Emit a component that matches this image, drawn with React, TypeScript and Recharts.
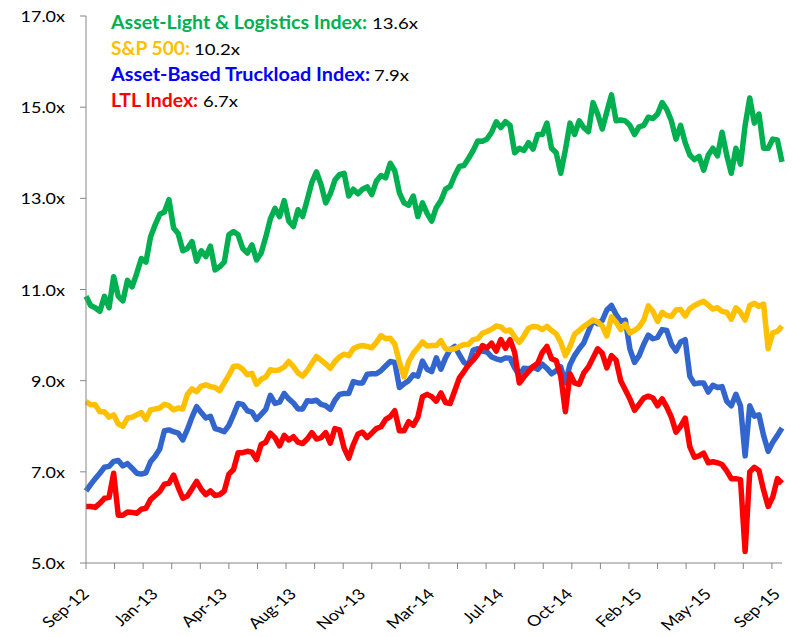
import { LineChart, Line, XAxis, YAxis } from 'recharts';

// one point = 5 trading days (Sep-12 .. Sep-15)
const DATE_LABELS = ['Sep-12', 'Jan-13', 'Apr-13', 'Aug-13', 'Nov-13', 'Mar-14', 'Jul-14', 'Oct-14', 'Feb-15', 'May-15', 'Sep-15'];
const LABEL_STEP = 15; // a date label every 75 trading days
const MARK_STEP = 31 / 5; // a tick mark every 31 trading days
const MARK_COUNT = 25;
const Y_TICKS = [5, 7, 9, 11, 13, 15, 17];

const assetLight = [
  10.85, 10.65, 10.6, 10.52, 10.85, 10.6, 11.28, 10.85, 10.75, 11.2,
  11.06, 11.35, 11.68, 11.6, 12.15, 12.42, 12.65, 12.7, 12.97, 12.35,
  12.23, 11.85, 11.9, 12.05, 11.62, 11.85, 11.72, 11.95, 11.43, 11.5,
  11.6, 12.2, 12.27, 12.2, 11.9, 11.8, 11.98, 11.65, 11.8, 12.15,
  12.55, 12.78, 12.6, 12.95, 12.5, 12.38, 12.75, 12.6, 12.97, 13.35,
  13.58, 13.3, 12.9, 13.1, 13.4, 13.52, 13.55, 13.05, 13.2, 13.1,
  13.2, 13.25, 13.08, 13.38, 13.5, 13.45, 13.77, 13.6, 13.12, 12.9,
  12.85, 13.05, 12.6, 12.9, 12.67, 12.5, 12.8, 12.95, 13.2, 13.26,
  13.5, 13.7, 13.72, 13.88, 14.05, 14.26, 14.25, 14.3, 14.45, 14.68,
  14.55, 14.68, 14.6, 14.0, 14.1, 14.05, 14.22, 14.08, 14.4, 14.4,
  14.65, 14.1, 14.0, 13.55, 14.06, 14.65, 14.4, 14.7, 14.55, 14.46,
  15.1, 14.85, 14.52, 14.9, 15.27, 14.7, 14.72, 14.7, 14.6, 14.4,
  14.57, 14.6, 14.78, 14.75, 14.85, 15.1, 14.95, 14.7, 14.3, 14.6,
  14.22, 13.95, 13.85, 13.92, 13.62, 13.95, 14.1, 13.93, 14.45, 13.95,
  13.55, 14.1, 13.75, 14.6, 15.2, 14.65, 14.85, 14.1, 14.1, 14.3,
  14.28, 13.8,
];

const sp500 = [
  8.54, 8.47, 8.47, 8.32, 8.32, 8.2, 8.25, 8.05, 8.0, 8.18,
  8.2, 8.25, 8.3, 8.15, 8.36, 8.38, 8.4, 8.48, 8.45, 8.36,
  8.4, 8.38, 8.7, 8.82, 8.76, 8.88, 8.91, 8.87, 8.85, 8.78,
  8.95, 9.12, 9.31, 9.32, 9.25, 9.13, 9.16, 8.92, 9.03, 9.08,
  9.24, 9.22, 9.24, 9.3, 9.42, 9.31, 9.17, 9.1, 9.22, 9.38,
  9.53, 9.45, 9.37, 9.27, 9.42, 9.52, 9.58, 9.55, 9.7, 9.75,
  9.77, 9.75, 9.72, 9.84, 9.99, 9.92, 9.93, 9.8, 9.4, 9.08,
  9.42, 9.6, 9.72, 9.85, 9.76, 9.77, 9.77, 9.88, 9.7, 9.68,
  9.7, 9.75, 9.79, 9.8, 9.9, 9.92, 10.04, 10.08, 10.13, 10.2,
  10.18, 10.09, 10.11, 9.96, 9.84, 9.98, 10.15, 10.19, 10.18, 10.12,
  10.19, 10.1, 10.03, 9.84, 9.55, 9.75, 10.02, 10.1, 10.19, 10.26,
  10.33, 10.29, 10.2, 9.98, 10.4, 10.28, 10.12, 10.24, 10.05, 10.1,
  10.18, 10.33, 10.64, 10.52, 10.3, 10.5, 10.43, 10.41, 10.55, 10.56,
  10.42, 10.58, 10.65, 10.7, 10.74, 10.66, 10.57, 10.6, 10.52, 10.5,
  10.35, 10.6, 10.5, 10.33, 10.65, 10.7, 10.63, 10.68, 9.7, 10.05,
  10.08, 10.2,
];

const truckload = [
  6.58, 6.72, 6.85, 6.97, 7.1, 7.12, 7.23, 7.25, 7.13, 7.18,
  7.08, 6.97, 6.95, 6.98, 7.22, 7.34, 7.5, 7.9, 7.92, 7.88,
  7.85, 7.7, 7.93, 8.2, 8.43, 8.3, 8.18, 8.22, 7.95, 7.92,
  7.88, 8.02, 8.25, 8.5, 8.48, 8.34, 8.31, 8.15, 8.26, 8.37,
  8.68, 8.5, 8.53, 8.72, 8.6, 8.51, 8.38, 8.38, 8.56, 8.55,
  8.57, 8.48, 8.45, 8.37, 8.57, 8.7, 8.72, 8.72, 8.98, 8.95,
  8.95, 9.14, 9.15, 9.15, 9.22, 9.32, 9.42, 9.4, 8.85, 8.93,
  9.0, 9.13, 9.1, 9.43, 9.25, 9.2, 9.5, 9.25, 9.5, 9.68,
  9.75, 9.57, 9.4, 9.35, 9.67, 9.7, 9.65, 9.63, 9.52, 9.48,
  9.45, 9.5, 9.49, 9.28, 9.12, 9.27, 9.26, 9.3, 9.25, 9.36,
  9.27, 9.15, 9.22, 9.3, 8.95, 9.35, 9.55, 9.7, 9.83, 10.08,
  10.32, 10.25, 10.32, 10.55, 10.65, 10.45, 10.3, 10.33, 9.7, 9.4,
  9.55, 9.8, 10.0, 9.92, 9.95, 10.12, 10.1, 9.8, 9.65, 9.85,
  9.9, 9.1, 8.93, 8.95, 8.95, 8.75, 8.9, 8.85, 8.87, 8.55,
  8.45, 8.7, 8.45, 7.35, 8.45, 8.22, 8.25, 7.8, 7.45, 7.65,
  7.8, 7.96,
];

const ltl = [
  6.24, 6.24, 6.22, 6.31, 6.42, 6.44, 6.97, 6.05, 6.05, 6.12,
  6.11, 6.09, 6.18, 6.2, 6.39, 6.48, 6.57, 6.73, 6.75, 6.93,
  6.66, 6.42, 6.47, 6.63, 6.79, 6.62, 6.5, 6.58, 6.48, 6.5,
  6.58, 6.95, 7.05, 7.42, 7.42, 7.45, 7.43, 7.27, 7.6, 7.65,
  7.85, 7.75, 7.57, 7.8, 7.7, 7.77, 7.65, 7.62, 7.72, 7.86,
  7.72, 7.75, 7.86, 7.63, 7.95, 7.92, 7.52, 7.3, 7.6, 7.83,
  7.87, 7.75, 7.85, 7.95, 7.99, 8.15, 8.21, 8.34, 7.9, 7.9,
  8.1, 8.02, 8.2, 8.65, 8.7, 8.65, 8.55, 8.73, 8.52, 8.5,
  8.78, 9.06, 9.2, 9.35, 9.45, 9.58, 9.77, 9.72, 9.82, 9.65,
  9.9, 9.71, 9.9, 9.62, 8.95, 9.08, 9.2, 9.31, 9.38, 9.62,
  9.75, 9.48, 9.44, 9.1, 8.32, 9.15, 8.95, 8.92, 9.17, 9.3,
  9.5, 9.7, 9.6, 9.28, 9.55, 9.45, 9.0, 8.8, 8.6, 8.35,
  8.48, 8.62, 8.66, 8.62, 8.45, 8.6, 8.42, 8.2, 7.87, 8.0,
  8.18, 7.55, 7.32, 7.35, 7.41, 7.2, 7.22, 7.2, 7.16, 7.02,
  6.85, 6.85, 6.83, 5.25, 7.0, 7.1, 7.03, 6.6, 6.24, 6.45,
  6.85, 6.75,
];

const data = assetLight.map((v, i) => ({
  i,
  assetLight: v,
  sp500: sp500[i],
  truckload: truckload[i],
  ltl: ltl[i],
}));

const labelTicks = DATE_LABELS.map((_, k) => k * LABEL_STEP);
const markTicks = Array.from({ length: MARK_COUNT }, (_, k) => k * MARK_STEP);
const xTicks = Array.from(new Set([...labelTicks, ...markTicks])).sort((a, b) => a - b);

const AXIS = '#868686';
const FONT = 'Lato, "Open Sans", sans-serif';

const near = (v: number, step: number) => Math.abs(v / step - Math.round(v / step)) < 1e-6;

function XTick({ x, y, payload }: any) {
  const v = payload.value as number;
  return (
    <g>
      {near(v, MARK_STEP) && <line x1={x} x2={x} y1={y} y2={y + 6} stroke={AXIS} />}
      {near(v, LABEL_STEP) && (
        <text
          transform={`translate(${x + 4},${y + 32}) scale(1.2,1) rotate(-45)`}
          textAnchor="end"
          fontFamily={FONT}
          fontSize={15}
          fill="#000"
        >
          {DATE_LABELS[Math.round(v / LABEL_STEP)]}
        </text>
      )}
    </g>
  );
}

function YTick({ x, y, payload }: any) {
  return (
    <g>
      <line x1={x - 6} x2={x} y1={y} y2={y} stroke={AXIS} />
      <text
        transform={`translate(${x - 21},${y + 6}) scale(1.2,1)`}
        textAnchor="end"
        fontFamily={FONT}
        fontSize={15}
        fill="#000"
      >
        {`${payload.value.toFixed(1)}x`}
      </text>
    </g>
  );
}

const legendRows = [
  { title: 'Asset-Light & Logistics Index:', value: '13.6x', color: '#00B050', tw: 256, vx: 372, vw: 46 },
  { title: 'S&P 500:', value: '10.2x', color: '#FFC000', tw: 79, vx: 194, vw: 46 },
  { title: 'Asset-Based Truckload Index:', value: '7.9x', color: '#0000FF', tw: 259, vx: 374, vw: 35 },
  { title: 'LTL Index:', value: '6.7x', color: '#FF0000', tw: 87, vx: 203, vw: 35 },
];

export default function App() {
  return (
    <div style={{ position: 'absolute', left: 0, top: 0, width: 792, height: 637, background: '#fff' }}>
      <LineChart width={792} height={637} data={data} margin={{ top: 16, right: 10, bottom: 0, left: 0 }}>
        <XAxis
          dataKey="i"
          type="number"
          domain={[0, 151]}
          ticks={xTicks}
          interval={0}
          height={74}
          tickLine={false}
          tickSize={0}
          tickMargin={0}
          stroke={AXIS}
          tick={(p: any) => <XTick {...p} />}
        />
        <YAxis
          type="number"
          domain={[5, 17]}
          ticks={Y_TICKS}
          interval={0}
          width={86}
          tickLine={false}
          tickSize={0}
          tickMargin={0}
          stroke={AXIS}
          tick={(p: any) => <YTick {...p} />}
        />
        <Line dataKey="truckload" type="linear" stroke="#3366CC" strokeWidth={5.5} strokeLinejoin="round" dot={false} isAnimationActive={false} />
        <Line dataKey="ltl" type="linear" stroke="#FF0000" strokeWidth={5.5} strokeLinejoin="round" dot={false} isAnimationActive={false} />
        <Line dataKey="sp500" type="linear" stroke="#FFC000" strokeWidth={5.5} strokeLinejoin="round" dot={false} isAnimationActive={false} />
        <Line dataKey="assetLight" type="linear" stroke="#00B050" strokeWidth={5.5} strokeLinejoin="round" dot={false} isAnimationActive={false} />
      </LineChart>
      <svg width={792} height={637} style={{ position: 'absolute', left: 0, top: 0, pointerEvents: 'none' }}>
        {legendRows.map((r, k) => (
          <g key={r.title} fontFamily={FONT}>
            <text x={111} y={29 + k * 26} fontSize={18.5} fontWeight={700} fill={r.color} textLength={r.tw} lengthAdjust="spacingAndGlyphs">
              {r.title}
            </text>
            <text x={r.vx} y={29 + k * 26} fontSize={15.5} fill="#000" textLength={r.vw} lengthAdjust="spacingAndGlyphs">
              {r.value}
            </text>
          </g>
        ))}
      </svg>
    </div>
  );
}
